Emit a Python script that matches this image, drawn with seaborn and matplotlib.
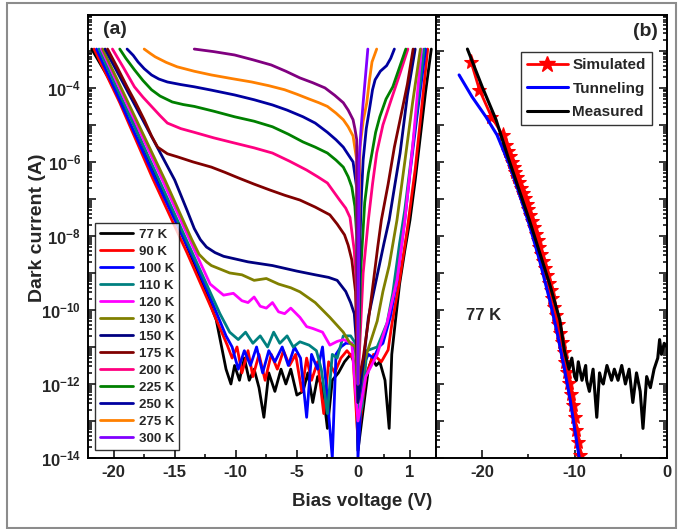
import numpy as np
import pandas as pd
import matplotlib
matplotlib.use("Agg")
import matplotlib.pyplot as plt
import seaborn as sns
from matplotlib.ticker import FixedLocator, LogLocator, FuncFormatter, NullFormatter
from matplotlib.lines import Line2D
from matplotlib.patches import Rectangle

# ---- panel (a): dark current vs bias, (V, log10 I) ----
c77 = [(-21.8,-2.95),(-20.0,-3.97),(-18.5,-4.86),(-17.1,-5.95),(-14.9,-7.57),(-12.7,-9.3),(-11.6,-10.27),(-11.1,-11.1),
       (-10.8,-11.6),(-10.4,-12.0),(-10.1,-11.5),(-9.7,-11.9),(-9.3,-11.3),(-8.9,-11.9),(-8.5,-11.6),(-8.1,-12.1),
       (-7.7,-12.9),(-7.3,-11.7),(-6.8,-12.2),(-6.3,-11.6),(-5.9,-12.0),(-5.5,-11.6),(-5.0,-12.3),(-4.5,-12.2),
       (-4.1,-11.7),(-3.7,-12.5),(-3.3,-11.8),(-2.9,-12.1),(-2.5,-13.2),(-2.1,-11.9),(-1.6,-11.7),(-1.1,-11.4),
       (-0.6,-11.2),(-0.2,-11.5),(0.0,-13.8),(0.1,-12.7),(0.2,-11.6),(0.27,-11.3),(0.35,-11.5),(0.42,-11.4),
       (0.52,-11.9),(0.6,-13.2),(0.65,-11.2),(0.72,-10.3),(0.8,-9.3),(0.9,-8.4),(1.0,-7.57),(1.1,-6.5),(1.2,-5.3),
       (1.3,-4.1),(1.41,-2.95)]
c90 = [(-21.6,-2.95),(-19.5,-4.4),(-16.8,-6.45),(-14.0,-8.45),(-12.0,-9.95),(-10.7,-10.95),(-10.3,-11.3),(-9.9,-11.0),
       (-9.5,-11.7),(-9.0,-11.1),(-8.6,-11.8),(-8.1,-11.2),(-7.6,-11.9),(-7.1,-11.2),(-6.6,-11.6),(-6.1,-11.1),
       (-5.6,-11.5),(-5.1,-11.2),(-4.6,-12.2),(-4.2,-11.3),(-3.8,-11.9),(-3.3,-11.4),(-2.8,-12.8),(-2.4,-11.4),
       (-1.9,-11.7),(-1.4,-11.3),(-0.9,-11.1),(-0.4,-11.3),(0.0,-13.5),(0.15,-11.8),(0.3,-11.2),(0.45,-11.4),
       (0.58,-11.08),(0.65,-10.4),(0.8,-9.2),(0.95,-7.8),(1.1,-6.2),(1.22,-4.6),(1.34,-2.95)]
c100 = [(-21.4,-2.95),(-16.6,-6.45),(-13.5,-8.6),(-11.8,-9.9),(-10.8,-10.7),(-10.3,-11.0),(-9.8,-11.6),(-9.3,-11.1),
        (-8.8,-11.5),(-8.3,-11.0),(-7.8,-11.7),(-7.3,-11.1),(-6.8,-11.4),(-6.2,-11.0),(-5.7,-11.5),(-5.2,-11.0),
        (-4.7,-11.3),(-4.2,-12.9),(-3.8,-11.2),(-3.3,-11.6),(-2.9,-11.0),(-2.5,-12.4),(-2.1,-14.0),(-1.8,-11.2),
        (-1.4,-11.0),(-1.0,-10.9),(-0.5,-10.9),(-0.1,-11.2),(0.0,-14.0),(0.1,-11.5),(0.2,-11.2),(0.3,-11.3),
        (0.4,-11.0),(0.48,-10.9),(0.62,-10.2),(0.75,-9.2),(0.9,-7.57),(1.0,-6.3),(1.15,-4.6),(1.3,-2.95)]
c110 = [(-21.2,-2.95),(-16.4,-6.4),(-13.5,-8.5),(-11.3,-10.1),(-10.5,-10.6),(-9.8,-10.8),(-9.2,-10.6),(-8.6,-10.9),
        (-8.0,-10.7),(-7.4,-11.0),(-6.9,-10.6),(-6.4,-10.9),(-5.8,-10.7),(-5.3,-11.0),(-4.75,-10.86),(-4.0,-10.95),
        (-3.4,-11.1),(-3.0,-11.6),(-2.5,-12.8),(-2.1,-11.2),(-1.7,-11.3),(-1.2,-10.7),(-0.6,-10.7),(-0.2,-10.9),
        (0.0,-13.0),(0.08,-12.6),(0.17,-11.1),(0.37,-11.0),(0.56,-10.35),(0.67,-9.54),(0.8,-8.2),(0.9,-7.3),
        (1.05,-5.6),(1.27,-2.95)]
c120 = [(-21.0,-2.95),(-16.2,-6.35),(-13.5,-8.3),(-12.1,-9.3),(-11.0,-9.6),(-10.2,-9.55),(-9.5,-9.75),(-9.0,-9.8),
        (-8.5,-9.65),(-8.0,-9.9),(-7.5,-9.95),(-7.0,-9.8),(-6.5,-10.05),(-6.0,-10.1),(-5.5,-9.95),(-4.75,-10.2),
        (-4.2,-10.45),(-3.7,-10.5),(-2.9,-10.6),(-2.3,-10.95),(-1.7,-10.85),(-1.2,-10.8),(-0.5,-10.9),(0.0,-13.0),
        (0.15,-11.8),(0.37,-11.2),(0.56,-10.35),(0.75,-9.2),(0.9,-7.6),(1.05,-5.6),(1.22,-2.95)]
c130 = [(-20.9,-2.95),(-15.8,-6.49),(-13.6,-8.1),(-13.0,-8.5),(-12.4,-8.7),(-12.0,-8.8),(-10.5,-9.0),(-9.5,-9.05),
        (-8.5,-9.2),(-7.5,-9.15),(-6.5,-9.3),(-5.5,-9.4),(-4.75,-9.51),(-3.5,-9.8),(-2.3,-10.2),(-1.2,-10.6),
        (-0.65,-10.9),(-0.2,-11.0),(0.0,-12.5),(0.13,-11.35),(0.37,-10.3),(0.48,-9.5),(0.6,-8.8),(0.75,-7.57),
        (0.9,-6.0),(1.05,-4.4),(1.2,-2.95)]
c150 = [(-20.7,-2.95),(-15.0,-6.49),(-14.0,-7.3),(-13.4,-7.8),(-12.9,-8.1),(-12.4,-8.3),(-11.7,-8.45),(-11.0,-8.55),
        (-9.0,-8.7),(-7.0,-8.8),(-5.0,-8.95),(-3.5,-9.05),(-2.4,-9.12),(-1.7,-9.2),(-1.0,-9.5),(-0.6,-9.8),
        (-0.3,-10.1),(-0.1,-11.0),(0.0,-12.5),(0.1,-11.5),(0.2,-10.2),(0.35,-9.2),(0.5,-8.2),(0.6,-7.57),
        (0.7,-6.7),(0.81,-5.76),(0.95,-4.2),(1.1,-2.95)]
c175 = [(-20.5,-2.95),(-19.7,-3.45),(-18.9,-3.97),(-18.2,-4.4),(-17.5,-4.86),(-16.9,-5.3),(-16.4,-5.6),(-15.6,-5.78),
        (-14.8,-5.86),(-13.5,-6.0),(-12.0,-6.14),(-10.9,-6.28),(-9.8,-6.43),(-8.5,-6.6),(-7.2,-6.76),(-6.0,-6.9),
        (-4.75,-7.03),(-3.5,-7.22),(-2.3,-7.43),(-1.7,-7.68),(-1.1,-7.97),(-0.8,-8.25),(-0.5,-8.65),(-0.2,-9.5),
        (0.0,-12.0),(0.1,-11.3),(0.2,-10.3),(0.3,-9.2),(0.38,-8.3),(0.45,-7.57),(0.58,-6.6),(0.7,-5.6),
        (0.81,-4.86),(0.95,-3.9),(1.06,-2.95)]
c200 = [(-20.1,-2.95),(-19.2,-3.45),(-18.3,-3.97),(-17.6,-4.25),(-16.9,-4.5),(-16.2,-4.75),(-15.6,-4.95),(-14.5,-5.1),
        (-13.4,-5.2),(-11.8,-5.35),(-10.1,-5.49),(-8.5,-5.62),(-7.0,-5.76),(-5.6,-5.98),(-4.2,-6.22),(-3.3,-6.4),
        (-2.5,-6.57),(-2.0,-6.8),(-1.5,-7.03),(-1.0,-7.25),(-0.65,-7.5),(-0.3,-8.4),(-0.1,-9.5),(0.0,-12.0),
        (0.1,-9.0),(0.2,-7.57),(0.28,-6.6),(0.36,-5.76),(0.48,-5.0),(0.62,-4.4),(0.81,-3.6),(0.96,-2.95)]
c225 = [(-19.5,-2.95),(-19.0,-3.2),(-18.3,-3.51),(-17.6,-3.8),(-16.9,-4.05),(-16.2,-4.22),(-15.2,-4.38),(-14.3,-4.45),
        (-13.4,-4.5),(-11.8,-4.63),(-10.1,-4.78),(-8.5,-4.9),(-7.0,-5.05),(-5.7,-5.25),(-4.5,-5.46),(-3.5,-5.6),
        (-2.5,-5.76),(-1.8,-5.95),(-1.2,-6.14),(-0.8,-6.4),(-0.5,-6.68),(-0.25,-7.2),(-0.1,-8.0),(0.0,-12.0),
        (0.05,-9.0),(0.13,-7.1),(0.2,-6.3),(0.27,-5.76),(0.34,-5.2),(0.42,-4.78),(0.54,-4.3),(0.67,-3.97),
        (0.81,-3.4),(0.92,-2.95)]
c250 = [(-18.9,-2.95),(-18.4,-3.12),(-18.0,-3.3),(-17.5,-3.48),(-16.9,-3.65),(-16.3,-3.76),(-15.6,-3.84),(-14.5,-3.91),
        (-13.4,-3.97),(-12.0,-4.06),(-10.1,-4.19),(-8.5,-4.32),(-7.0,-4.46),(-5.8,-4.6),(-4.5,-4.78),(-3.5,-4.95),
        (-2.5,-5.2),(-1.8,-5.4),(-1.2,-5.6),(-0.8,-5.8),(-0.4,-6.0),(-0.1,-6.7),(0.0,-12.0),(0.04,-8.0),
        (0.07,-6.8),(0.1,-5.95),(0.16,-5.1),(0.23,-4.5),(0.28,-4.05),(0.33,-3.78),(0.43,-3.55),(0.55,-3.4),
        (0.63,-3.2),(0.70,-2.95)]
c275 = [(-17.5,-2.95),(-17.0,-3.07),(-16.6,-3.16),(-15.7,-3.31),(-14.8,-3.43),(-13.4,-3.55),(-12.0,-3.65),(-10.3,-3.75),
        (-8.7,-3.84),(-7.3,-3.94),(-6.0,-4.05),(-5.0,-4.17),(-4.0,-4.3),(-3.2,-4.4),(-2.5,-4.5),(-1.8,-4.68),
        (-1.2,-4.86),(-0.8,-5.05),(-0.4,-5.3),(-0.1,-5.95),(0.0,-12.0),(0.02,-7.5),(0.04,-5.6),(0.1,-4.9),
        (0.17,-4.4),(0.22,-3.8),(0.27,-3.3),(0.36,-2.95)]
c300_rev = [(-13.4,-2.95),(-11.8,-3.02),(-10.1,-3.11),(-8.6,-3.24),(-7.1,-3.38),(-5.9,-3.55),(-4.75,-3.73),(-3.7,-3.86),
            (-2.7,-4.0),(-1.9,-4.2),(-1.2,-4.4),(-0.8,-4.6),(-0.4,-4.86),(-0.25,-5.1),(-0.1,-5.4),(0.0,-12.0)]
c300_fwd = [(0.0,-12.0),(0.02,-6.0),(0.06,-5.1),(0.1,-4.4),(0.15,-3.6),(0.19,-2.95)]

temps = ["77 K", "90 K", "100 K", "110 K", "120 K", "130 K", "150 K", "175 K",
         "200 K", "225 K", "250 K", "275 K", "300 K"]
colors = ["#000000", "#ff0000", "#0000ff", "#008080", "#ff00ff", "#808000", "#000080",
          "#800000", "#ff0080", "#008000", "#0000a0", "#ff8000", "#8000ff"]

# ---- panel (b): 77 K, simulated / tunneling / measured ----
sim = [(-21.2,-3.3),(-20.3,-4.05),(-19.0,-4.78),(-17.8,-5.27),(-17.4,-5.55),(-17.2,-5.7),(-17.0,-5.85),(-16.8,-6.0),
       (-16.6,-6.13),(-16.4,-6.27),(-16.2,-6.41),(-16.0,-6.55),(-15.8,-6.7),(-15.6,-6.84),(-15.4,-6.98),(-15.2,-7.13),
       (-15.0,-7.28),(-14.8,-7.44),(-14.6,-7.6),(-14.4,-7.77),(-14.2,-7.94),(-14.0,-8.12),(-13.8,-8.3),(-13.6,-8.48),
       (-13.4,-8.67),(-13.2,-8.86),(-13.0,-9.06),(-12.8,-9.26),(-12.6,-9.47),(-12.4,-9.69),(-12.2,-9.91),(-12.0,-10.14),
       (-11.8,-10.38),(-11.6,-10.62),(-11.4,-10.87),(-11.2,-11.13),(-11.0,-11.4),(-10.8,-11.68),(-10.6,-11.97),
       (-10.4,-12.27),(-10.2,-12.58),(-10.0,-12.9),(-9.8,-13.23),(-9.6,-13.57),(-9.4,-13.92)]
tunnel = [(-22.5,-3.65),(-21.1,-4.24),(-19.6,-4.78),(-18.4,-5.27),(-17.1,-6.05),(-16.0,-6.85),(-14.9,-7.7),
          (-13.8,-8.65),(-12.7,-9.73),(-11.9,-10.6),(-11.1,-11.6),(-10.5,-12.4),(-10.0,-13.2),(-9.5,-14.0),(-9.3,-14.4)]
measured = [(-21.6,-2.95),(-20.0,-3.97),(-18.5,-4.86),(-17.1,-5.95),(-14.9,-7.57),(-12.7,-9.3),(-11.6,-10.27),
            (-11.1,-11.1),(-10.6,-11.6),(-10.3,-11.3),(-10.0,-11.8),(-9.8,-11.9),(-9.6,-11.4),(-9.2,-11.9),
            (-8.8,-11.5),(-8.7,-11.9),(-8.4,-12.2),(-8.0,-11.6),(-7.6,-12.9),(-7.3,-11.7),(-7.1,-11.9),(-6.9,-12.0),
            (-6.5,-11.5),(-6.0,-11.9),(-5.7,-11.6),(-5.3,-11.9),(-4.9,-11.5),(-4.5,-12.0),(-4.1,-11.6),(-3.7,-12.5),
            (-3.3,-11.7),(-2.9,-12.2),(-2.6,-13.2),(-2.2,-11.8),(-1.8,-12.1),(-1.4,-11.6),(-1.0,-11.3),(-0.8,-10.8),
            (-0.6,-11.2),(-0.3,-10.9),(0.0,-11.0)]


def to_frame(name, pts):
    df = pd.DataFrame(pts, columns=["V", "logI"])
    df["I"] = 10 ** df["logI"]
    df["series"] = name
    return df


series_a = [c77, c90, c100, c110, c120, c130, c150, c175, c200, c225, c250, c275]
frames = [to_frame(t, p) for t, p in zip(temps[:-1], series_a)]
frames.append(to_frame("300 K rev", c300_rev))
frames.append(to_frame("300 K", c300_fwd))
data_a = pd.concat(frames, ignore_index=True)
pal = dict(zip(temps, colors))
pal["300 K rev"] = "#800080"
order = temps[:-1] + ["300 K rev", "300 K"]

sns.set_theme(style="ticks")
plt.rcParams["font.family"] = ["Liberation Sans", "DejaVu Sans"]
plt.rcParams["font.weight"] = "bold"
plt.rcParams["axes.unicode_minus"] = False
plt.rcParams["mathtext.fontset"] = "custom"
plt.rcParams["mathtext.rm"] = "Liberation Sans:bold"
plt.rcParams["mathtext.bf"] = "Liberation Sans:bold"
plt.rcParams["mathtext.default"] = "bf"

fig = plt.figure(figsize=(6.8, 5.29), dpi=100)
W, H = 680, 529
bot, top = 458, 15
axa = fig.add_axes([88 / W, 1 - bot / H, 348 / W, (bot - top) / H])
axb = fig.add_axes([436 / W, 1 - bot / H, 231 / W, (bot - top) / H])

sns.lineplot(data=data_a, x="V", y="I", hue="series", hue_order=order, palette=pal,
             sort=False, estimator=None, lw=2, legend=False, ax=axa)

# stretched forward-bias side
def fwd(v):
    v = np.asarray(v, dtype=float)
    return np.where(v < 0, v, v * 4.26)

def inv(u):
    u = np.asarray(u, dtype=float)
    return np.where(u < 0, u, u / 4.26)

axa.set_xscale("function", functions=(fwd, inv))
axa.set_xlim(-22.1, 1.5)

sim_df = to_frame("Simulated", sim)
tun_df = to_frame("Tunneling", tunnel)
mea_df = to_frame("Measured", measured)
sns.lineplot(data=sim_df, x="V", y="I", color="red", lw=2, marker="*", markersize=11,
             markeredgecolor="red", sort=False, estimator=None, ax=axb)
sns.lineplot(data=tun_df, x="V", y="I", color="#0000ff", lw=2.2, sort=False, estimator=None, ax=axb)
sns.lineplot(data=mea_df, x="V", y="I", color="black", lw=2.2, sort=False, estimator=None, ax=axb)
axb.set_xlim(-25, 0)


def ylab(y, pos):
    e = int(round(np.log10(y)))
    return r"$\mathbf{10^{%d}}$" % e if e % 2 == 0 else ""


for ax in (axa, axb):
    ax.set_yscale("log")
    ax.set_ylim(1e-14, 10 ** -2.03)
    ax.yaxis.set_major_locator(LogLocator(base=10, subs=[1.0], numticks=30))
    ax.yaxis.set_minor_locator(LogLocator(base=10, subs=np.arange(2, 10), numticks=30))
    ax.yaxis.set_minor_formatter(NullFormatter())
    ax.set_xlabel("")
    ax.set_ylabel("")
    for s in ax.spines.values():
        s.set_color("black")
        s.set_linewidth(1.4)
    ax.tick_params(which="both", direction="in", color="black", width=1.1, labelsize=12, pad=5)
    ax.tick_params(which="major", length=6)
    ax.tick_params(which="minor", length=3)

axa.yaxis.set_major_formatter(FuncFormatter(ylab))
axa.tick_params(axis="y", which="both", left=True, right=False)
axb.tick_params(axis="y", which="both", left=True, right=True, labelleft=False)

axa.xaxis.set_major_locator(FixedLocator([-20, -15, -10, -5, 0, 1]))
axa.xaxis.set_minor_locator(FixedLocator([-17.5, -12.5, -7.5, -2.5, 0.5]))
axa.xaxis.set_major_formatter(FuncFormatter(lambda x, p: "%d" % round(x)))
axb.xaxis.set_major_locator(FixedLocator([-20, -10, 0]))
axb.xaxis.set_minor_locator(FixedLocator([-25, -15, -5]))
axb.xaxis.set_major_formatter(FuncFormatter(lambda x, p: "%d" % round(x)))

handles_a = [Line2D([], [], color=c, lw=2) for c in colors]
leg = axa.legend(handles_a, temps, loc="lower left", bbox_to_anchor=(0.02, 0.018), borderaxespad=0,
                 fontsize=9.5, frameon=True, fancybox=False, edgecolor="black", handlelength=2.5,
                 handletextpad=0.4, labelspacing=0.36, borderpad=0.4)
leg.get_frame().set_linewidth(1.0)

handles_b = [Line2D([], [], color="red", lw=2, marker="*", markersize=12),
             Line2D([], [], color="#0000ff", lw=2.2),
             Line2D([], [], color="black", lw=2.2)]
legb = axb.legend(handles_b, ["Simulated", "Tunneling", "Measured"], loc="upper right",
                  bbox_to_anchor=(0.935, 0.916), borderaxespad=0, fontsize=11, frameon=True,
                  fancybox=False, edgecolor="black", handlelength=2.7, handletextpad=0.3,
                  labelspacing=0.62, borderpad=0.4)
legb.get_frame().set_linewidth(1.0)

fig.text(115 / W, 1 - 30 / H, "(a)", fontsize=14, fontweight="bold", ha="center", va="center")
fig.text(645 / W, 1 - 32 / H, "(b)", fontsize=14, fontweight="bold", ha="center", va="center")
fig.text(484 / W, 1 - 315 / H, "77 K", fontsize=12, fontweight="bold", ha="center", va="center")
fig.text(362 / W, 1 - 502 / H, "Bias voltage (V)", fontsize=13.5, fontweight="bold", ha="center", va="center")
fig.text(38 / W, 1 - 228 / H, "Dark current (A)", fontsize=14, fontweight="bold", ha="center",
         va="center", rotation=90)

fig.patches.append(Rectangle((7 / W, 1 / H), 669 / W, 525 / H, transform=fig.transFigure,
                             fill=False, edgecolor="#8c8c8c", lw=1.5))

fig.savefig("out.png", dpi=100)
